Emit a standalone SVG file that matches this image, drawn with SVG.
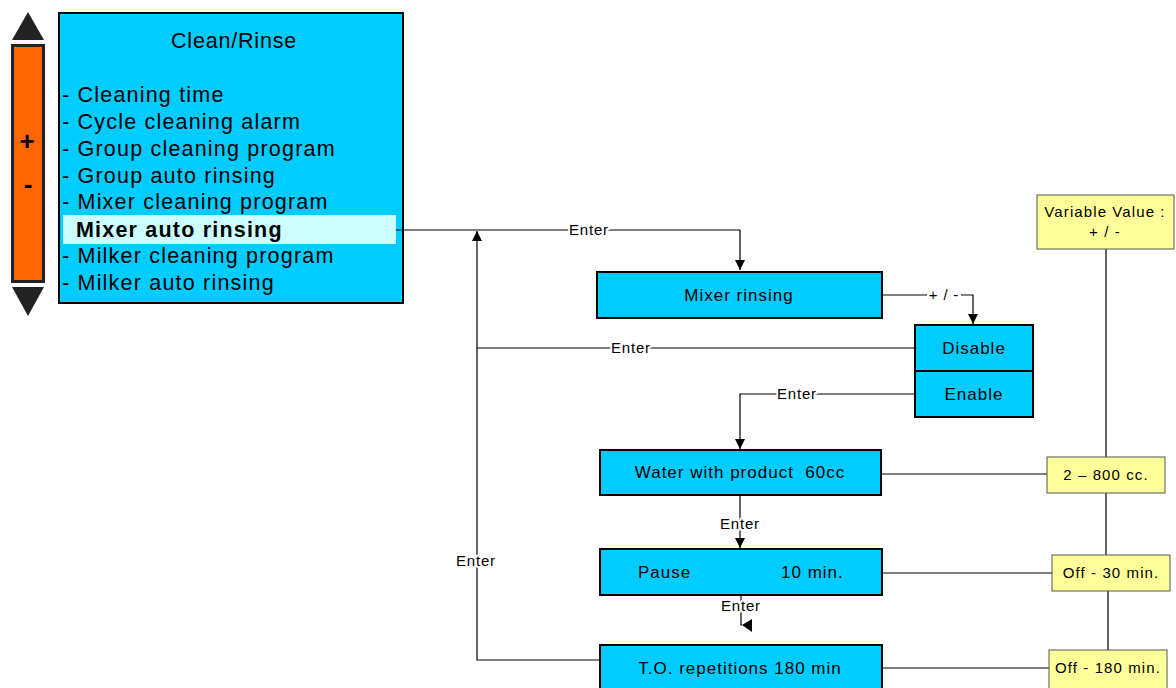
<svg xmlns="http://www.w3.org/2000/svg" width="1176" height="688" viewBox="0 0 1176 688">
<style>
text{font-family:"Liberation Sans",Arial,sans-serif;fill:#000}
.blue{fill:#00CCFF;stroke:#000;stroke-width:2}
.yel{fill:#FFFF99;stroke:#555;stroke-width:1}
.menu{font-size:21.5px;letter-spacing:1.2px}
.bt{font-size:17px;letter-spacing:1px;text-anchor:middle}
.yt{font-size:15px;letter-spacing:1.1px;text-anchor:middle}
.lbl{font-size:15px;letter-spacing:0.8px;text-anchor:middle;stroke:#fff;stroke-width:4;paint-order:stroke;stroke-linejoin:round}
.ln{fill:none;stroke:#000;stroke-width:1.2}
</style>
<defs>
<marker id="ah" viewBox="0 0 10 10" refX="10" refY="5" markerWidth="10" markerHeight="10" markerUnits="userSpaceOnUse" orient="auto">
<path d="M0,0 L10,5 L0,10 z" fill="#000"/>
</marker>
</defs>
<g id="scroll">
<polygon points="12,40 44,40 28,12" fill="#222"/>
<rect x="12.5" y="45.5" width="31" height="236" fill="#FF6600" stroke="#222" stroke-width="3"/>
<text x="27" y="150" font-size="26" font-weight="bold" text-anchor="middle">+</text>
<text x="28" y="193" font-size="26" font-weight="bold" text-anchor="middle">-</text>
<polygon points="12,287 44,287 28,316" fill="#222"/>
</g>
<g id="menu">
<rect x="59" y="13" width="344" height="290" class="blue"/>
<text x="234" y="48" font-size="21.5" letter-spacing="0.8" text-anchor="middle">Clean/Rinse</text>
<rect x="63" y="215" width="333" height="29" fill="#CCFFFF"/>
<text class="menu" x="62" y="102">- Cleaning time</text>
<text class="menu" x="62" y="129">- Cycle cleaning alarm</text>
<text class="menu" x="62" y="156">- Group cleaning program</text>
<text class="menu" x="62" y="183">- Group auto rinsing</text>
<text class="menu" x="62" y="209">- Mixer cleaning program</text>
<text class="menu" x="76" y="237" font-weight="bold">Mixer auto rinsing</text>
<text class="menu" x="62" y="263">- Milker cleaning program</text>
<text class="menu" x="62" y="290">- Milker auto rinsing</text>
</g>
<g id="connectors">
<path class="ln" d="M396,230 H740 V270" marker-end="url(#ah)"/>
<text class="lbl" x="589" y="235">Enter</text>
<path class="ln" d="M882,295 H927 M961,295 H973 V324" marker-end="url(#ah)"/>
<text class="lbl" x="944" y="300">+ / -</text>
<path class="ln" d="M915,348 H477"/>
<text class="lbl" x="631" y="353">Enter</text>
<path class="ln" d="M600,660 H477 V231" marker-end="url(#ah)"/>
<text class="lbl" x="476" y="566">Enter</text>
<path class="ln" d="M915,394 H740 V449" marker-end="url(#ah)"/>
<text class="lbl" x="797" y="399">Enter</text>
<path class="ln" d="M740,495 V548" marker-end="url(#ah)"/>
<text class="lbl" x="740" y="529">Enter</text>
<path class="ln" d="M741,577 V625 H742"/>
<polygon points="742,625 752,619 752,632" fill="#000"/>
<text class="lbl" x="741" y="611">Enter</text>
<path class="ln" d="M882,474 H1047"/>
<path class="ln" d="M882,573 H1052"/>
<path class="ln" d="M882,668 H1049"/>
<path class="ln" d="M1106,249 V457 M1106,493 V555 M1108,591 V650"/>
</g>
<g id="mixer-rinsing">
<rect x="597" y="272" width="285" height="46" class="blue"/>
<text class="bt" x="739" y="301">Mixer rinsing</text>
</g>
<g id="disable">
<rect x="915" y="325" width="118" height="46" class="blue"/>
<text class="bt" x="974" y="354">Disable</text>
</g>
<g id="enable">
<rect x="915" y="371" width="118" height="46" class="blue"/>
<text class="bt" x="974" y="400">Enable</text>
</g>
<g id="water">
<rect x="600" y="450" width="281" height="45" class="blue"/>
<text class="bt" x="740" y="478" xml:space="preserve">Water with product  60cc</text>
</g>
<g id="pause">
<rect x="600" y="549" width="282" height="46" class="blue"/>
<text x="638" y="578" font-size="17" letter-spacing="1">Pause</text>
<text x="781" y="578" font-size="17" letter-spacing="1">10 min.</text>
</g>
<g id="repetitions">
<rect x="600" y="645" width="282" height="50" class="blue"/>
<text class="bt" x="740" y="674">T.O. repetitions 180 min</text>
</g>
<g id="variable">
<rect x="1037" y="195" width="137" height="54" class="yel"/>
<text class="yt" x="1105" y="217">Variable Value :</text>
<text class="yt" x="1105" y="237">+ / -</text>
</g>
<g id="range-water">
<rect x="1047" y="457" width="118" height="36" class="yel"/>
<text class="yt" x="1106" y="480">2 – 800 cc.</text>
</g>
<g id="range-pause">
<rect x="1052" y="555" width="118" height="36" class="yel"/>
<text class="yt" x="1111" y="578">Off - 30 min.</text>
</g>
<g id="range-rep">
<rect x="1049" y="650" width="118" height="42" class="yel"/>
<text class="yt" x="1108" y="673">Off - 180 min.</text>
</g>
</svg>
